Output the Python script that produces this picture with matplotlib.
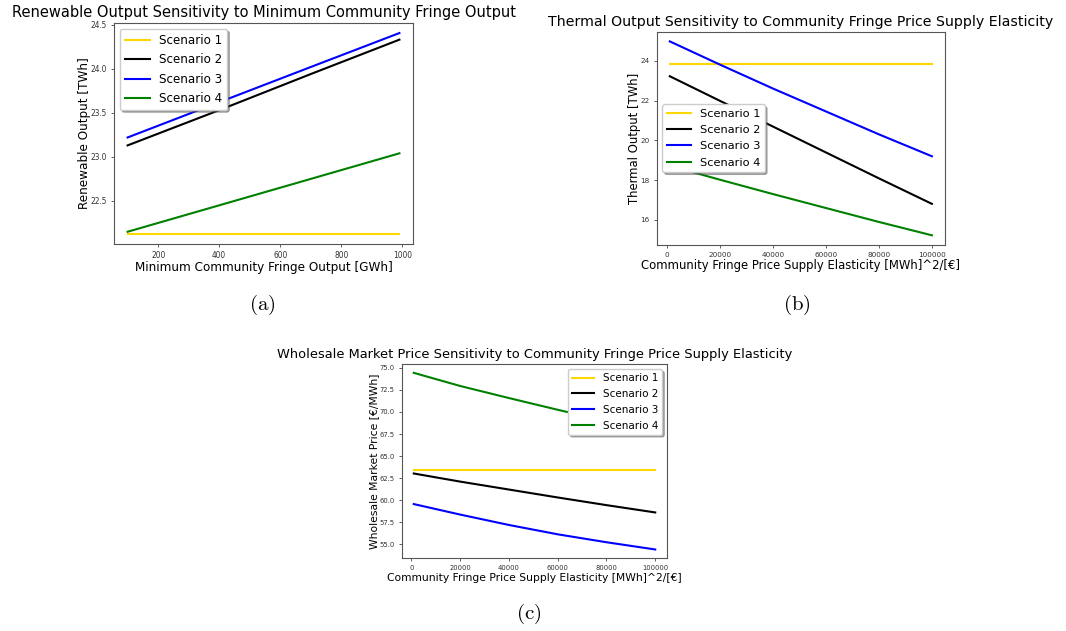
import matplotlib
matplotlib.use('Agg')
import matplotlib.pyplot as plt

plt.rcParams['mathtext.fontset'] = 'cm'

labels = ['Scenario 1', 'Scenario 2', 'Scenario 3', 'Scenario 4']
colors = ['gold', 'k', 'b', 'g']

# (a) renewable output vs minimum community fringe output
min_output = [100, 400, 700, 990]
ren_s1 = [22.125, 22.125, 22.125, 22.125]
ren_s2 = [23.13, 23.53, 23.94, 24.33]
ren_s3 = [23.22, 23.62, 24.02, 24.405]
ren_s4 = [22.15, 22.45, 22.75, 23.04]

# (b) thermal output vs price supply elasticity
elasticity = [1000, 20000, 40000, 60000, 80000, 100000]
th_s1 = [23.83, 23.83, 23.83, 23.83, 23.83, 23.83]
th_s2 = [23.22, 21.98, 20.69, 19.39, 18.09, 16.81]
th_s3 = [24.97, 23.80, 22.60, 21.45, 20.30, 19.20]
th_s4 = [18.72, 18.02, 17.30, 16.60, 15.90, 15.23]

# (c) wholesale price vs price supply elasticity
pr_s1 = [63.45, 63.45, 63.45, 63.45, 63.45, 63.45]
pr_s2 = [63.02, 62.10, 61.20, 60.30, 59.43, 58.60]
pr_s3 = [59.55, 58.36, 57.18, 56.12, 55.22, 54.40]
pr_s4 = [74.44, 72.95, 71.58, 70.25, 68.97, 67.73]

W, H = 1066, 631
fig = plt.figure(figsize=(W / 100, H / 100), dpi=100)


def box(l, t, r, b):
    return [l / W, 1 - b / H, (r - l) / W, (b - t) / H]


# each panel was scaled differently in the document, so fonts get a factor
def panel(rect, x, series, title, xlabel, ylabel, loc, k_title, k_label, k_leg):
    ax = fig.add_axes(rect)
    for y, c, lab in zip(series, colors, labels):
        ax.plot(x, y, color=c, lw=1.5, label=lab)
    ax.set_title(title, fontsize=10.5 * k_title, pad=4)
    ax.set_xlabel(xlabel, fontsize=8.8 * k_label, labelpad=1)
    ax.set_ylabel(ylabel, fontsize=8.8 * k_label, labelpad=0)
    ax.tick_params(labelsize=5.5 * k_label, length=2.5, width=0.6,
                   pad=2.5, colors='#444', labelcolor='#333')
    for s in ax.spines.values():
        s.set_color('#555')
        s.set_linewidth(0.8)
    ax.legend(loc=loc, fontsize=9.5 * k_leg, framealpha=1,
              shadow={'ox': 1.5, 'oy': -1.5, 'alpha': 0.45},
              handlelength=2.1, handletextpad=0.8, borderpad=0.4,
              labelspacing=0.55)
    return ax


panel(box(114, 23, 413, 244), min_output, [ren_s1, ren_s2, ren_s3, ren_s4],
      'Renewable Output Sensitivity to Minimum Community Fringe Output',
      'Minimum Community Fringe Output [GWh]', 'Renewable Output [TWh]',
      'upper left', 1.0, 0.985, 0.90)

panel(box(656.7, 31.7, 945, 245), elasticity, [th_s1, th_s2, th_s3, th_s4],
      'Thermal Output Sensitivity to Community Fringe Price Supply Elasticity',
      'Community Fringe Price Supply Elasticity [MWh]^2/[€]',
      'Thermal Output [TWh]', 'center left', 0.965, 0.95, 0.86)

panel(box(401.7, 364, 667.3, 558.3), elasticity, [pr_s1, pr_s2, pr_s3, pr_s4],
      'Wholesale Market Price Sensitivity to Community Fringe Price Supply Elasticity',
      'Community Fringe Price Supply Elasticity [MWh]^2/[€]',
      'Wholesale Market Price [€/MWh]', 'upper right', 0.895, 0.88, 0.79)

# subfigure captions
for cx, cy, s in [(262, 305, 'a'), (797, 305, 'b'), (529, 614, 'c')]:
    fig.text(cx / W, 1 - cy / H, r'$\mathrm{(%s)}$' % s, fontsize=15,
             ha='center', va='center')

fig.savefig('out.png', dpi=100)
